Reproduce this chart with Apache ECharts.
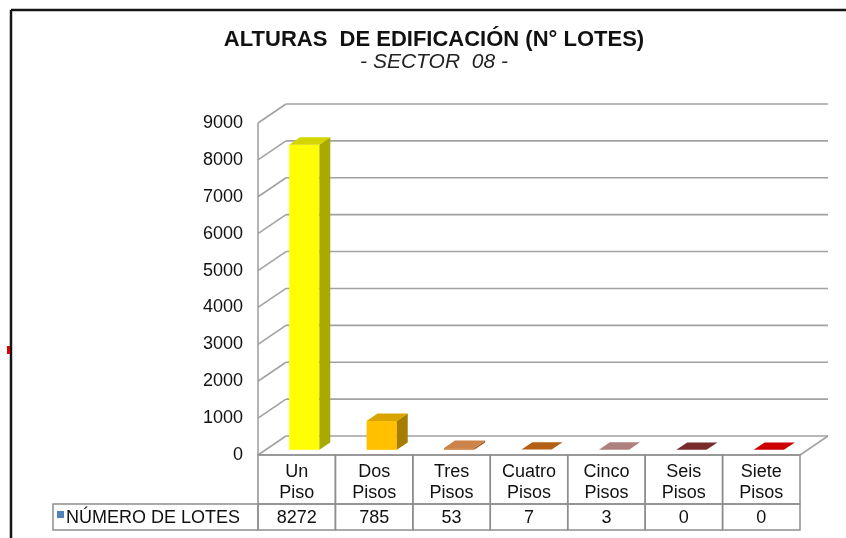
<!DOCTYPE html>
<html>
<head>
<meta charset="utf-8">
<script src="https://cdn.jsdelivr.net/npm/echarts@6/dist/echarts.min.js"></script>
<style>
  html, body { margin: 0; padding: 0; background: #fff; }
  #chart { width: 846px; height: 538px; }
</style>
</head>
<body>
<div id="chart"></div>
<script>
  // values
  var categories = ['Un\nPiso', 'Dos\nPisos', 'Tres\nPisos', 'Cuatro\nPisos', 'Cinco\nPisos', 'Seis\nPisos', 'Siete\nPisos'];
  var lotes = [8272, 785, 53, 7, 3, 0, 0];
  var yTicks = [0, 1000, 2000, 3000, 4000, 5000, 6000, 7000, 8000, 9000];
  var seriesName = 'NÚMERO DE LOTES';

  // face colours per bar: front, top, side
  var frontColors = ['#FFFF00', '#FFC000', '#D28A4E', '#B8641C', '#B48686', '#7E3030', '#D60000'];
  var topColors = ['#D4D400', '#D9A400', '#CD844A', '#B35F14', '#AE8080', '#782B2B', '#CC0000'];
  var sideColors = ['#A9A900', '#A67D00', '#9E5F2C', '#86450C', '#8A6262', '#5C1E1E', '#9E0000'];

  var DX = 28, DY = -19;      // depth of the 3d box
  var GRID_LINE = '#A2A2A2';
  var CELL_LINE = '#8E8E8E';
  var FONT = '"Liberation Sans", Arial, sans-serif';
  var TEXT_SIZE = 18;

  var myChart = echarts.init(document.getElementById('chart'));

  function renderWall (params, api) {
    var t = api.value(0);
    var cs = params.coordSys;
    var p = api.coord([0, t]);
    var y = p[1];
    var style = { stroke: GRID_LINE, lineWidth: 1.6, fill: null };
    var children = [
      { type: 'line', shape: { x1: cs.x, y1: y, x2: cs.x + DX, y2: y + DY }, style: style },
      { type: 'line', shape: { x1: cs.x + DX, y1: y + DY, x2: cs.x + cs.width + DX, y2: y + DY }, style: style }
    ];
    if (t === 0) {
      children.push({ type: 'line', shape: { x1: cs.x, y1: y, x2: cs.x + cs.width, y2: y }, style: style });
      children.push({ type: 'line', shape: { x1: cs.x + cs.width, y1: y, x2: cs.x + cs.width + DX, y2: y + DY }, style: style });
    }
    if (t === yTicks[yTicks.length - 1]) {
      var p0 = api.coord([0, 0]);
      children.push({ type: 'line', shape: { x1: cs.x, y1: y, x2: cs.x, y2: p0[1] }, style: style });
    }
    return { type: 'group', children: children };
  }

  function renderBar (params, api) {
    var i = api.value(0);
    var v = api.value(1);
    var base = api.coord([i, 0]);
    var top = api.coord([i, v]);
    var band = api.size([1, 0])[0];
    var w = band * 0.39;
    var ox = DX * 0.27, oy = DY * 0.27;
    var dx = DX * 0.39, dy = DY * 0.39;
    var x0 = base[0] - w / 2 + ox;
    var x1 = x0 + w;
    var yb = base[1] + oy;
    var yt = top[1] + oy;
    var children = [];
    if (yb - yt > 0.5) {
      children.push({ type: 'rect', shape: { x: x0, y: yt, width: w, height: yb - yt }, style: { fill: frontColors[i] } });
      children.push({ type: 'polygon', shape: { points: [[x1, yt], [x1 + dx, yt + dy], [x1 + dx, yb + dy], [x1, yb]] }, style: { fill: sideColors[i] } });
    }
    children.push({ type: 'polygon', shape: { points: [[x0, yt], [x1, yt], [x1 + dx, yt + dy], [x0 + dx, yt + dy]] }, style: { fill: topColors[i] } });

    // data table cells under the category
    var cx0 = base[0] - band / 2;
    var ty = base[1];
    children.push({ type: 'rect', shape: { x: cx0, y: ty, width: band, height: 49 }, style: { fill: null, stroke: CELL_LINE, lineWidth: 1.5 } });
    children.push({ type: 'rect', shape: { x: cx0, y: ty + 49, width: band, height: 26 }, style: { fill: null, stroke: CELL_LINE, lineWidth: 1.5 } });
    children.push({ type: 'text', style: { x: base[0], y: ty + 28, text: categories[i], align: 'center', verticalAlign: 'middle', fill: '#111', font: TEXT_SIZE + 'px ' + FONT, lineHeight: 21 } });
    children.push({ type: 'text', style: { x: base[0], y: ty + 63, text: String(lotes[i]), align: 'center', verticalAlign: 'middle', fill: '#111', font: TEXT_SIZE + 'px ' + FONT } });
    return { type: 'group', children: children };
  }

  myChart.setOption({
    backgroundColor: '#fff',
    animation: false,
    title: {
      text: 'ALTURAS  DE EDIFICACIÓN (N° LOTES)',
      subtext: '- SECTOR  08 -',
      left: 429,
      textAlign: 'center',
      top: 24,
      itemGap: 1,
      textStyle: { fontFamily: FONT, fontSize: 22, fontWeight: 'bold', color: '#111' },
      subtextStyle: { fontFamily: FONT, fontSize: 21, fontStyle: 'italic', color: '#222' }
    },
    grid: { left: 258, right: 46, top: 123, bottom: 83 },
    xAxis: {
      type: 'category',
      data: categories,
      axisLine: { show: false },
      axisTick: { show: false },
      axisLabel: { show: false },
      splitLine: { show: false }
    },
    yAxis: {
      type: 'value',
      min: 0,
      max: 9000,
      interval: 1000,
      axisLine: { show: false },
      axisTick: { show: false },
      splitLine: { show: false },
      axisLabel: {
        color: '#111',
        fontSize: TEXT_SIZE,
        fontFamily: FONT,
        margin: 15,
        formatter: function (v) { return String(v); }
      }
    },
    graphic: [
      { type: 'line', shape: { x1: 11, y1: 10, x2: 846, y2: 10 }, style: { stroke: '#151515', lineWidth: 2.5 } },
      { type: 'line', shape: { x1: 11, y1: 10, x2: 11, y2: 538 }, style: { stroke: '#151515', lineWidth: 2.5 } },
      { type: 'rect', shape: { x: 7, y: 346, width: 3, height: 8 }, style: { fill: '#E00000' } },
      { type: 'rect', shape: { x: 53, y: 504, width: 205, height: 26 }, style: { fill: null, stroke: CELL_LINE, lineWidth: 1.5 } },
      { type: 'rect', shape: { x: 57, y: 511, width: 7, height: 7 }, style: { fill: '#4F81BD' } },
      { type: 'text', style: { x: 66, y: 518, text: seriesName, verticalAlign: 'middle', fill: '#111', font: TEXT_SIZE + 'px ' + FONT } }
    ],
    series: [
      {
        name: 'walls',
        type: 'custom',
        z: 1,
        silent: true,
        renderItem: renderWall,
        data: yTicks.map(function (t) { return [t]; }),
        encode: { y: 0 }
      },
      {
        name: seriesName,
        type: 'custom',
        z: 2,
        renderItem: renderBar,
        data: lotes.map(function (v, i) { return [i, v]; }),
        encode: { x: 0, y: 1 }
      }
    ]
  });
</script>
</body>
</html>
